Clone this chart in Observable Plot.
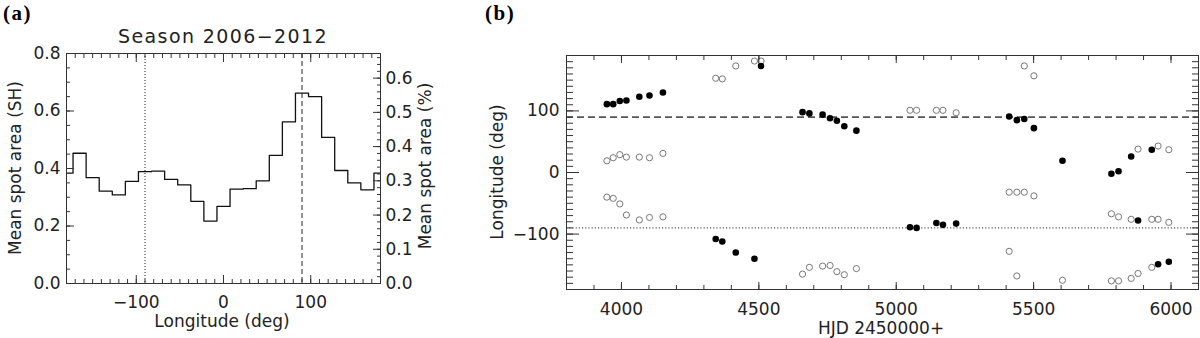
<!DOCTYPE html>
<html>
<head>
<meta charset="utf-8">
<script src="https://cdn.jsdelivr.net/npm/d3@7"></script>
<script src="https://cdn.jsdelivr.net/npm/@observablehq/plot@0.6"></script>
<style>
  html, body { margin: 0; padding: 0; background: #fff; }
  #wrap { position: relative; width: 1200px; height: 338px; overflow: hidden; background: #fff; }
  #wrap svg { position: absolute; top: 0; }
  .t { position: absolute; font-family: "DejaVu Sans", sans-serif; font-size: 17px; line-height: 17px; color: #222; white-space: nowrap; }
  .rot { transform: translate(-50%, -50%) rotate(-90deg); }
  .hc { transform: translateX(-50%); }
  .pl { position: absolute; font-family: "Liberation Serif", "Times New Roman", serif; font-weight: bold; font-size: 21px; line-height: 24px; letter-spacing: 1.5px; color: #000; white-space: nowrap; }
</style>
</head>
<body>
<div id="wrap"></div>
<script>
// ---------- Panel (a): mean spot area vs longitude ----------
const lonCenters = [-180, -165, -150, -135, -120, -105, -90, -75, -60, -45, -30, -15, 0,
                    15, 30, 45, 60, 75, 90, 105, 120, 135, 150, 165, 180];
const spotAreaSH = [0.384, 0.453, 0.368, 0.321, 0.308, 0.355, 0.389, 0.391, 0.362, 0.343, 0.286, 0.217, 0.268,
                    0.328, 0.330, 0.357, 0.446, 0.562, 0.662, 0.650, 0.508, 0.393, 0.350, 0.326, 0.384];
const shToPercent = 0.84;            // right axis: % = SH * factor
const xTicksA = [-100, 0, 100];
const yTicksA = [0, 0.2, 0.4, 0.6, 0.8];
const pctTicks = [0, 0.1, 0.2, 0.3, 0.4, 0.5, 0.6];
const markerLinesA = { dotted: -90, dashed: 90 };

// ---------- Panel (b): spot longitudes vs time ----------
const hjdFilled = [3947, 3970, 3994, 4018, 4065, 4102, 4151,
                   4343, 4367, 4416, 4484, 4508,
                   4659, 4684, 4732, 4759, 4784, 4811, 4855,
                   5050, 5074, 5146, 5170, 5218,
                   5411, 5439, 5466, 5501, 5605,
                   5783, 5809, 5855, 5880, 5930, 5953, 5992];
const lonFilled = [111, 111, 116, 117, 123, 125, 130,
                   -108, -112, -130, -140, 173,
                   98, 96, 94, 88, 84, 75, 68,
                   -89, -90, -82, -85, -83,
                   91, 85, 87, 72, 19,
                   -2, 2, 26, -78, 37, -149, -145];
const hjdOpen = [3947, 3970, 3994, 4018, 4065, 4102, 4151,
                 3947, 3970, 3994, 4018, 4065, 4102, 4151,
                 4343, 4367, 4416, 4484, 4508,
                 4659, 4684, 4732, 4759, 4784, 4811, 4855,
                 5050, 5074, 5146, 5170, 5218,
                 5411, 5439, 5466, 5501,
                 5411, 5439, 5466, 5501,
                 5605,
                 5783, 5809, 5855, 5930, 5953, 5992,
                 5783, 5809, 5855, 5880, 5930,
                 5880, 5953, 5992];
const lonOpen = [19, 24, 29, 25, 25, 24, 31,
                 -40, -42, -51, -69, -77, -73, -72,
                 153, 152, 173, 181, 181,
                 -165, -154, -152, -151, -161, -166, -156,
                 101, 101, 101, 101, 97,
                 -32, -32, -32, -38,
                 -128, -168, 173, 157,
                 -175,
                 -67, -72, -76, -76, -76, -81,
                 -176, -176, -172, -164, -154,
                 38, 43, 37];
const xTicksB = [4000, 4500, 5000, 5500, 6000];
const yTicksB = [-100, 0, 100];
const markerLinesB = { dashed: 90, dotted: -90 };

const range = (a, b, s) => d3.range(a, b + s / 2, s).map(v => +v.toFixed(6));

const baseStyle = { fontFamily: "DejaVu Sans, sans-serif", fontSize: "17px", color: "#222", background: "transparent", overflow: "visible" };

// ---------- build panel (a) ----------
const histData = lonCenters.map((x, i) => ({ lon: x, area: spotAreaSH[i] }));
const minorRight = range(0, 0.66, 0.02).map(p => p / shToPercent).filter(v => v <= 0.8);
const plotA = Plot.plot({
  width: 460, height: 338,
  marginLeft: 66, marginRight: 80, marginTop: 53, marginBottom: 55,
  x: { domain: [-180, 180] },
  y: { domain: [0, 0.8] },
  style: baseStyle,
  marks: [
    Plot.ruleX([markerLinesA.dotted], { stroke: "#222", strokeWidth: 1, strokeDasharray: "1,2" }),
    Plot.ruleX([markerLinesA.dashed], { stroke: "#222", strokeWidth: 1, strokeDasharray: "5,3" }),
    Plot.line(histData, { x: "lon", y: "area", curve: "step", stroke: "#111", strokeWidth: 1.3 }),
    Plot.frame({ stroke: "#333" }),
    // tick labels
    Plot.axisX({ anchor: "bottom", ticks: xTicksA, tickSize: 0, tickPadding: 12, label: null }),
    Plot.axisY({ anchor: "left", ticks: yTicksA, tickSize: 0, tickPadding: 6, label: null, tickFormat: d => d.toFixed(1) }),
    Plot.axisY({ anchor: "right", ticks: pctTicks.map(p => p / shToPercent), tickSize: 0, tickPadding: 5, label: null,
                 tickFormat: d => (d * shToPercent).toFixed(1) }),
    // inward tick marks
    Plot.axisX({ anchor: "bottom", ticks: range(-180, 180, 10), tickSize: -4, fill: "none", stroke: "#333" }),
    Plot.axisX({ anchor: "bottom", ticks: xTicksA, tickSize: -8, fill: "none", stroke: "#333" }),
    Plot.axisX({ anchor: "top", ticks: range(-180, 180, 10), tickSize: -4, fill: "none", stroke: "#333" }),
    Plot.axisX({ anchor: "top", ticks: xTicksA, tickSize: -8, fill: "none", stroke: "#333" }),
    Plot.axisY({ anchor: "left", ticks: range(0, 0.8, 0.05), tickSize: -4, fill: "none", stroke: "#333" }),
    Plot.axisY({ anchor: "left", ticks: yTicksA, tickSize: -8, fill: "none", stroke: "#333" }),
    Plot.axisY({ anchor: "right", ticks: minorRight, tickSize: -4, fill: "none", stroke: "#333" }),
    Plot.axisY({ anchor: "right", ticks: pctTicks.map(p => p / shToPercent), tickSize: -8, fill: "none", stroke: "#333" })
  ]
});
plotA.style.left = "0px";

// ---------- build panel (b) ----------
const filledData = hjdFilled.map((x, i) => ({ hjd: x, lon: lonFilled[i] }));
const openData = hjdOpen.map((x, i) => ({ hjd: x, lon: lonOpen[i] }));
const plotB = Plot.plot({
  width: 740, height: 338,
  marginLeft: 106, marginRight: 2, marginTop: 55, marginBottom: 49,
  x: { domain: [3800, 6100] },
  y: { domain: [-190, 190] },
  style: baseStyle,
  marks: [
    Plot.ruleY([markerLinesB.dashed], { stroke: "#555", strokeWidth: 1.6, strokeDasharray: "7,4" }),
    Plot.ruleY([markerLinesB.dotted], { stroke: "#555", strokeWidth: 1.2, strokeDasharray: "1.2,2" }),
    Plot.dot(openData, { x: "hjd", y: "lon", r: 3.1, stroke: "#777", strokeWidth: 1, fill: "none" }),
    Plot.dot(filledData, { x: "hjd", y: "lon", r: 3.3, fill: "#000", stroke: "none" }),
    Plot.frame({ stroke: "#333" }),
    Plot.axisX({ anchor: "bottom", ticks: xTicksB, tickSize: 0, tickPadding: 13, label: null, tickFormat: d => String(d) }),
    Plot.axisY({ anchor: "left", ticks: yTicksB, tickSize: 0, tickPadding: 7, label: null }),
    Plot.axisX({ anchor: "bottom", ticks: range(3800, 6100, 100), tickSize: -4, fill: "none", stroke: "#333" }),
    Plot.axisX({ anchor: "bottom", ticks: xTicksB, tickSize: -7, fill: "none", stroke: "#333" }),
    Plot.axisX({ anchor: "top", ticks: range(3800, 6100, 100), tickSize: -4, fill: "none", stroke: "#333" }),
    Plot.axisX({ anchor: "top", ticks: xTicksB, tickSize: -7, fill: "none", stroke: "#333" }),
    Plot.axisY({ anchor: "left", ticks: range(-190, 190, 10), tickSize: -7, fill: "none", stroke: "#333" }),
    Plot.axisY({ anchor: "left", ticks: yTicksB, tickSize: -13, fill: "none", stroke: "#333" }),
    Plot.axisY({ anchor: "right", ticks: range(-190, 190, 10), tickSize: -7, fill: "none", stroke: "#333" }),
    Plot.axisY({ anchor: "right", ticks: yTicksB, tickSize: -13, fill: "none", stroke: "#333" })
  ]
});
plotB.style.left = "460px";

const wrap = document.getElementById("wrap");
wrap.appendChild(plotA);
wrap.appendChild(plotB);

function addText(cls, txt, css) {
  const d = document.createElement("div");
  d.className = cls;
  d.textContent = txt;
  Object.assign(d.style, css);
  wrap.appendChild(d);
}
addText("pl", "(a)", { left: "3px", top: "1px" });
addText("pl", "(b)", { left: "485px", top: "1px" });
addText("t hc", "Season 2006\u22122012", { left: "223px", top: "27px", fontSize: "19px", lineHeight: "19px", letterSpacing: "1.4px" });
addText("t rot", "Mean spot area (SH)", { left: "15px", top: "168px" });
addText("t rot", "Mean spot area (%)", { left: "425px", top: "166px" });
addText("t hc", "Longitude (deg)", { left: "222px", top: "313px" });
addText("t rot", "Longitude (deg)", { left: "497px", top: "172px" });
addText("t hc", "HJD 2450000+", { left: "881px", top: "320px" });
</script>
</body>
</html>
